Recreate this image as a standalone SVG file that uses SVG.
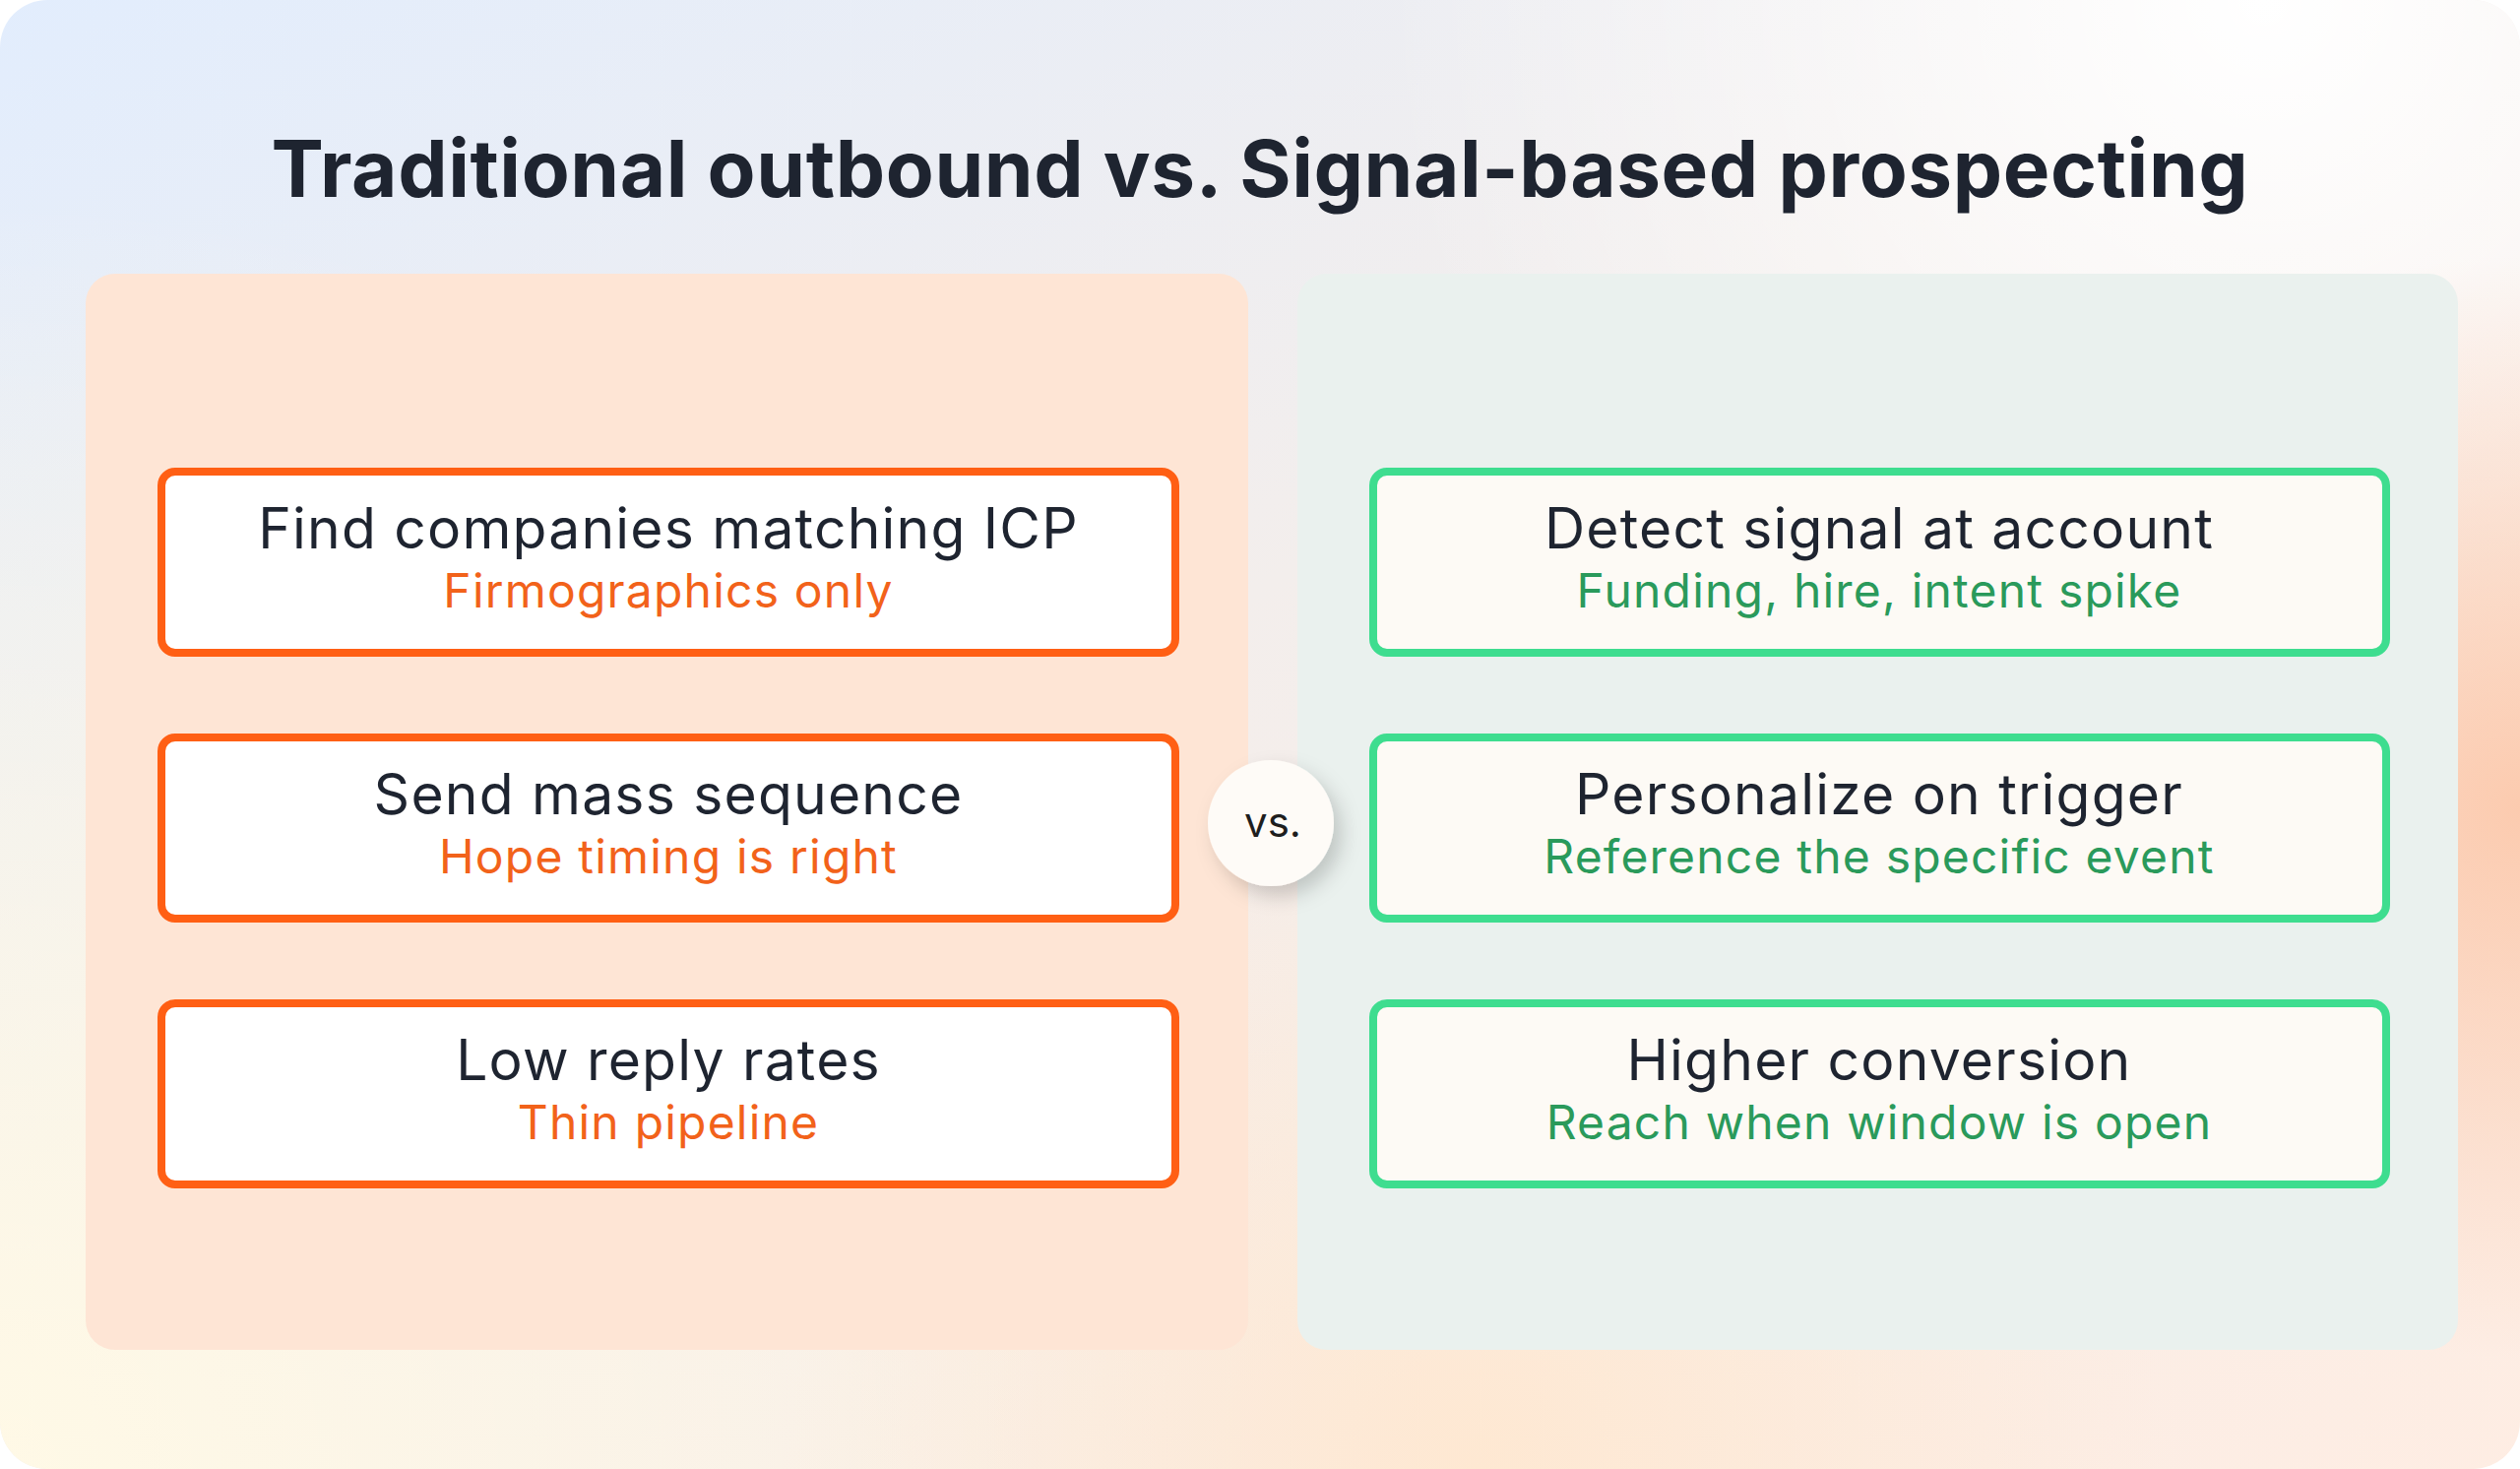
<svg xmlns="http://www.w3.org/2000/svg" width="2560" height="1492" viewBox="0 0 2560 1492">
<defs>
<style>
.title{font-family:Inter,"Liberation Sans",sans-serif;font-weight:700;font-size:80px;letter-spacing:0.6px;fill:#1E2430;text-anchor:middle}
.h{font-family:Inter,"Liberation Sans",sans-serif;font-weight:400;font-size:57px;letter-spacing:1.2px;fill:#1E2430;text-anchor:middle}
.s{font-family:Inter,"Liberation Sans",sans-serif;font-weight:400;font-size:48px;letter-spacing:1.2px;text-anchor:middle}
.so{fill:#F2621A}
.sg{fill:#2A9A5B}
.bo{fill:#FFFFFF;stroke:#FF5F14;stroke-width:8}
.bg{fill:#FDFAF5;stroke:#3EDD8F;stroke-width:8}
.vs{font-family:Inter,"Liberation Sans",sans-serif;font-weight:400;font-size:42px;fill:#1E1E1E;text-anchor:middle}
</style>
<linearGradient id="base" x1="0" y1="0" x2="1" y2="1">
<stop offset="0" stop-color="#E2EDFD"/>
<stop offset="0.45" stop-color="#F3EEEC"/>
<stop offset="1" stop-color="#FEEDE3"/>
</linearGradient>
<radialGradient id="rtr" cx="2300" cy="0" r="900" gradientUnits="userSpaceOnUse">
<stop offset="0" stop-color="#FFFFFF" stop-opacity="1"/>
<stop offset="1" stop-color="#FFFFFF" stop-opacity="0"/>
</radialGradient>
<radialGradient id="rpe" cx="2560" cy="820" r="560" gradientUnits="userSpaceOnUse">
<stop offset="0" stop-color="#FCCBAF" stop-opacity="1"/>
<stop offset="1" stop-color="#FCCBAF" stop-opacity="0"/>
</radialGradient>
<radialGradient id="rbl" cx="0" cy="1492" r="1300" gradientUnits="userSpaceOnUse">
<stop offset="0" stop-color="#FFF9E6" stop-opacity="1"/>
<stop offset="1" stop-color="#FFF9E6" stop-opacity="0"/>
</radialGradient>
<radialGradient id="rbm" cx="1500" cy="1492" r="700" gradientUnits="userSpaceOnUse">
<stop offset="0" stop-color="#FEE8D2" stop-opacity="1"/>
<stop offset="1" stop-color="#FEE8D2" stop-opacity="0"/>
</radialGradient>
<filter id="shadow" x="-50%" y="-50%" width="200%" height="200%">
<feGaussianBlur in="SourceAlpha" stdDeviation="10"/>
<feOffset dx="8" dy="10" result="b"/>
<feFlood flood-color="#000000" flood-opacity="0.18"/>
<feComposite in2="b" operator="in"/>
<feMerge><feMergeNode/><feMergeNode in="SourceGraphic"/></feMerge>
</filter>
</defs>
<rect width="2560" height="1492" fill="#FFFFFF"/>
<g id="background">
<rect x="0" y="0" width="2560" height="1492" rx="48" fill="url(#base)"/>
<rect x="0" y="0" width="2560" height="1492" rx="48" fill="url(#rtr)"/>
<rect x="0" y="0" width="2560" height="1492" rx="48" fill="url(#rbl)"/>
<rect x="0" y="0" width="2560" height="1492" rx="48" fill="url(#rbm)"/>
<rect x="0" y="0" width="2560" height="1492" rx="48" fill="url(#rpe)"/>
</g>
<text class="title" x="1280" y="200">Traditional outbound vs. Signal-based prospecting</text>
<g id="panel-left"><rect x="87" y="278" width="1181" height="1093" rx="30" fill="#FEE5D5"/></g>
<g id="panel-right"><rect x="1318" y="278" width="1179" height="1093" rx="30" fill="#EAF1EE"/></g>
<g id="connectors"></g>
<g id="node-l1">
<rect class="bo" x="164" y="479" width="1030" height="184" rx="14"/>
<text class="h" x="679" y="557">Find companies matching ICP</text>
<text class="s so" x="679" y="617">Firmographics only</text>
</g>
<g id="node-l2">
<rect class="bo" x="164" y="749" width="1030" height="184" rx="14"/>
<text class="h" x="679" y="827">Send mass sequence</text>
<text class="s so" x="679" y="887">Hope timing is right</text>
</g>
<g id="node-l3">
<rect class="bo" x="164" y="1019" width="1030" height="184" rx="14"/>
<text class="h" x="679" y="1097">Low reply rates</text>
<text class="s so" x="679" y="1157">Thin pipeline</text>
</g>
<g id="node-r1">
<rect class="bg" x="1395" y="479" width="1029" height="184" rx="14"/>
<text class="h" x="1909" y="557">Detect signal at account</text>
<text class="s sg" x="1909" y="617">Funding, hire, intent spike</text>
</g>
<g id="node-r2">
<rect class="bg" x="1395" y="749" width="1029" height="184" rx="14"/>
<text class="h" x="1909" y="827">Personalize on trigger</text>
<text class="s sg" x="1909" y="887">Reference the specific event</text>
</g>
<g id="node-r3">
<rect class="bg" x="1395" y="1019" width="1029" height="184" rx="14"/>
<text class="h" x="1909" y="1097">Higher conversion</text>
<text class="s sg" x="1909" y="1157">Reach when window is open</text>
</g>
<g id="node-vs">
<circle cx="1291" cy="836" r="64" fill="#FEFBF7" filter="url(#shadow)"/>
<text class="vs" x="1293" y="850">vs.</text>
</g>
</svg>
